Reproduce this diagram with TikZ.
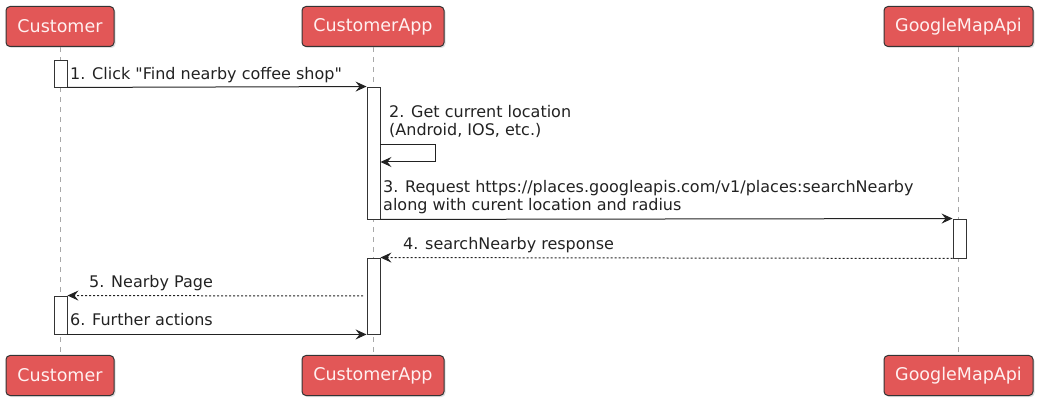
\documentclass[tikz,border=0pt]{standalone}
\usepackage{fontspec}
\setmainfont{DejaVu Sans}[Ligatures=TeXOff]
\usetikzlibrary{arrows.meta,shadows}
\definecolor{partfill}{RGB}{226,87,87}
\definecolor{partdraw}{RGB}{52,52,52}
\definecolor{parttext}{RGB}{255,240,240}
\definecolor{lifegray}{RGB}{168,168,168}
\definecolor{msgcol}{RGB}{34,34,34}
\begin{document}
\begin{tikzpicture}[x=1pt,y=-1pt,>={Stealth[length=11pt,width=10pt,inset=4pt]}]
            \useasboundingbox (0,0) rectangle (1049,419);
            \tikzset{
                part/.style={rectangle, rounded corners=4pt, draw=partdraw, line width=1pt, fill=partfill,
                    text=parttext, minimum height=40pt, inner sep=0pt,
                    font=\fontsize{17.5}{20}\selectfont,
                    drop shadow={shadow xshift=1.5pt, shadow yshift=-1.5pt, opacity=0.25}},
                act/.style={rectangle, draw=partdraw, line width=0.9pt, fill=white, minimum width=13pt, inner sep=0pt},
                lifeline/.style={lifegray, line width=1pt, dash pattern=on 5pt off 5pt},
                msg/.style={msgcol, line width=1pt},
                reply/.style={msgcol, line width=1pt, dash pattern=on 2pt off 2pt},
                msglabel/.style={anchor=base west, inner sep=0pt, text=msgcol, align=left,
                    font=\fontsize{16}{18}\selectfont}
            }
            % participants, top and bottom
            \node[part, minimum width=108pt] (cust) at (60, 26.5) {Customer};
            \node[part, minimum width=142pt] (app) at (373, 26.5) {CustomerApp};
            \node[part, minimum width=149pt] (gmap) at (958.5, 26.5) {GoogleMapApi};
            \node[part, minimum width=108pt] (custB) at (60, 375.5) {Customer};
            \node[part, minimum width=142pt] (appB) at (373, 375.5) {CustomerApp};
            \node[part, minimum width=149pt] (gmapB) at (958.5, 375.5) {GoogleMapApi};

            \draw[lifeline] (cust.south) -- (custB.north);
            \draw[lifeline] (app.south) -- (appB.north);
            \draw[lifeline] (gmap.south) -- (gmapB.north);

            % activations
            \node[act, minimum height=27pt] (c1) at (60.5, 73.5) {};
            \node[act, minimum height=132pt] (a1) at (373.5, 153) {};
            \node[act, minimum height=39pt] (g1) at (959.5, 238.5) {};
            \node[act, minimum height=76pt] (a2) at (373.5, 296) {};
            \node[act, minimum height=38pt] (c2) at (60.5, 315) {};

            \coordinate (selftop) at (435, 145);
            \coordinate (selfbot) at (435, 162);
            \coordinate (replyfrom) at (363, 296);

            % messages
            \draw[msg,->] (c1.south east) -- (a1.north west);
            \draw[msg,->] (a1.east |- selftop) -- (selftop) -- (selfbot) -- (a1.east |- selfbot);
            \draw[msg,->] (a1.south east) -- (g1.north west);
            \draw[reply,->] (g1.south west) -- (a2.north east);
            \draw[reply,->] (replyfrom) -- (c2.north east);
            \draw[msg,->] (c2.south east) -- (a2.south west);

            % labels (base of a two-line label is its last line)
            \node[msglabel] (lab1) at (70, 80) {1. Click "Find nearby coffee shop"};
            \node[msglabel] (lab2) at (389, 136) {2. Get current location\\(Android, IOS, etc.)};
            \node[msglabel] (lab3) at (383, 211) {3. Request https://places.googleapis.com/v1/places:searchNearby\\along with curent location and radius};
            \node[msglabel] (lab4) at (403, 250) {4. searchNearby response};
            \node[msglabel] (lab5) at (89, 288) {5. Nearby Page};
            \node[msglabel] (lab6) at (70, 326) {6. Further actions};
\end{tikzpicture}
\end{document}
